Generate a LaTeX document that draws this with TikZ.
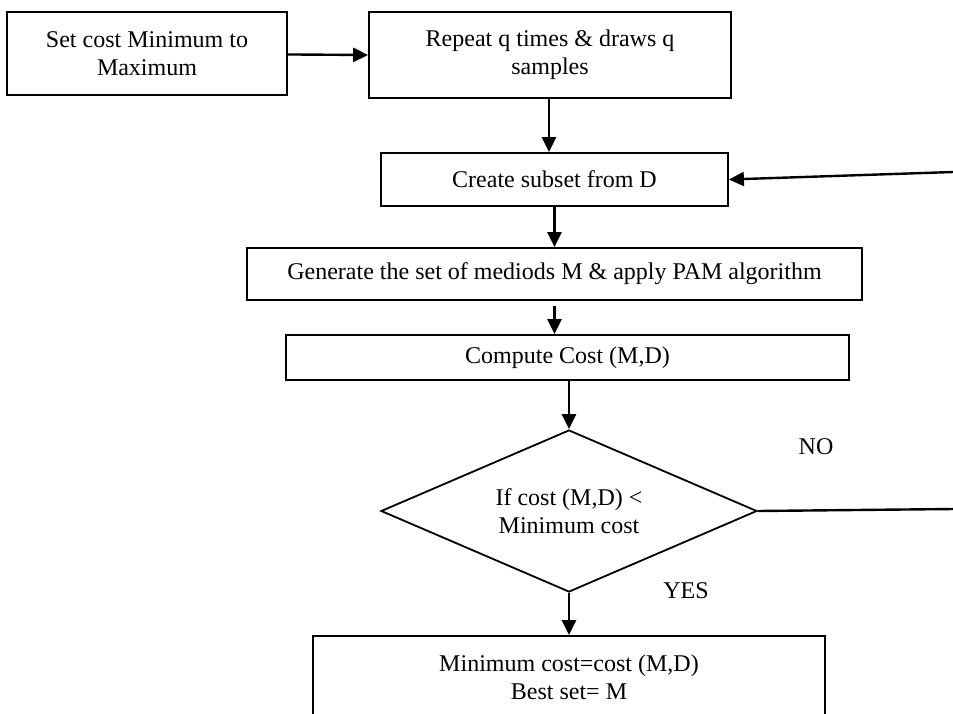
\documentclass[tikz,border=0pt]{standalone}
\usepackage{fontspec}
\setmainfont{Liberation Serif}
\usetikzlibrary{shapes.geometric,arrows.meta}
\begin{document}
\begin{tikzpicture}[x=0.5pt, y=-0.5pt,
            font=\fontsize{12pt}{14pt}\selectfont,
            box/.style={draw, line width=0.9pt, align=center, inner sep=0pt},
            arr/.style={-{Triangle[length=7.5pt,width=7pt]}, line width=1.2pt}]
            \useasboundingbox (0,0) rectangle (953,713);

            \node[box, minimum width=140pt, minimum height=41.5pt] (S) at (147,53.5) {Set cost Minimum to\\Maximum};
            \node[box, minimum width=181pt, minimum height=43pt] (R) at (550,55) {Repeat q times \& draws q\\samples};
            \node[box, minimum width=173.5pt, minimum height=26.5pt] (C) at (554.5,179.5) {Create subset from D};
            \node[box, minimum width=307.5pt, minimum height=26pt] (G) at (554.5,274) {Generate the set of mediods M \& apply PAM algorithm};
            \node[box, minimum width=281.5pt, minimum height=22.5pt] (K) at (567.5,357.5) {Compute Cost (M,D)};
            \node[box, shape=diamond, aspect=2.32, minimum width=188pt, minimum height=81pt] (I) at (569,511) {If cost (M,D) <\\Minimum cost};
            \node[box, minimum width=256pt, minimum height=41pt] (B) at (569,677) {Minimum cost=cost (M,D)\\Best set= M};

            \node (no) at (816,447) {NO};
            \node (yes) at (686,591) {YES};
            \coordinate (back) at (953,172);
            \coordinate (out) at (953,509);

            \draw[arr] (S) -- (R.west);
            \draw[arr] (R.south -| 549,0) -- (C.north -| 549,0);
            \draw[arr] (back) -- (C.east);
            \draw[arr] (C) -- (G);
            \draw[arr] ([yshift=-2.5pt]G.south) -- (G.south |- K.north);
            \draw[arr] (K.south -| I.north) -- (I.north);
            \draw[arr] (I) -- (B);
            \draw[line width=1.2pt] (I.east) -- (out);
        \end{tikzpicture}
\end{document}
